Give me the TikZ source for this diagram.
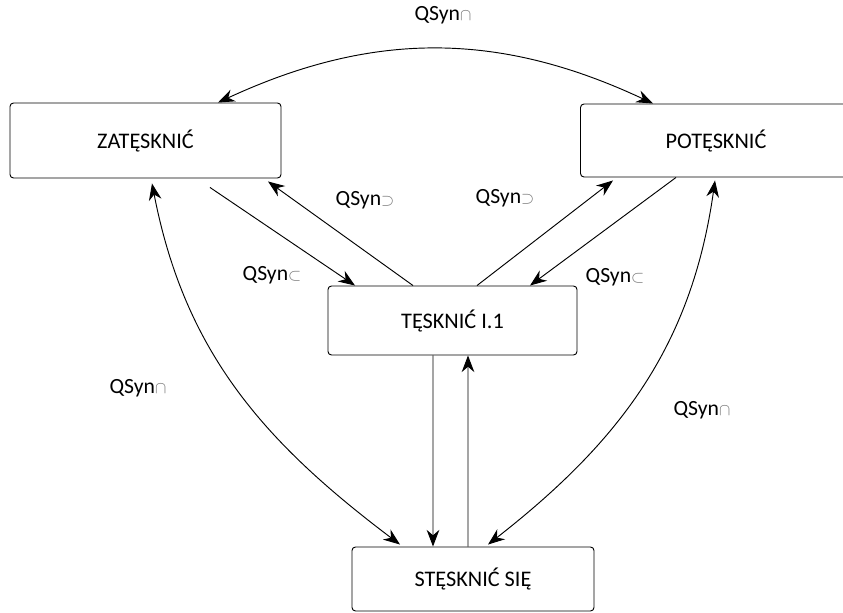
\documentclass[tikz,border=0pt]{standalone}
\usepackage{xcolor}
\usepackage{fontspec}
\setmainfont{Carlito}
\usepackage{tikz}
\usetikzlibrary{arrows.meta}
\usetikzlibrary{shapes}
\tikzset{%
  word box/.style={
    draw,
    rectangle,
    rounded corners=3pt,
    line width=0.8pt,
    font=\fontsize{19}{22}\selectfont
  },
  qsyn label/.style={
    font=\fontsize{18.5}{22}\selectfont
  },
  link/.style={
    line width=0.8pt
  },
}
\newcommand{\relsym}[1]{{\color{black!55}\fontsize{14}{14}\selectfont$#1$}}

\begin{document}
\begin{tikzpicture}
  \clip (0,0) rectangle (25.29,-18.36);

  \node (z) [xshift=4.365cm,yshift=-4.215cm,word box,minimum width=8.13cm,minimum height=2.25cm]
  {ZATĘSKNIĆ};
  \node (p) [xshift=21.48cm,yshift=-4.215cm,word box,minimum width=8.13cm,minimum height=2.19cm]
  {POTĘSKNIĆ};
  \node (t) [xshift=13.575cm,yshift=-9.615cm,word box,minimum width=7.47cm,minimum height=2.07cm]
  {TĘSKNIĆ I.1};
  \node (s) [xshift=14.19cm,yshift=-17.37cm,word box,minimum width=7.26cm,minimum height=1.92cm]
  {STĘSKNIĆ SIĘ};

  \node (qtop) [xshift=13.29cm,yshift=-0.45cm,qsyn label] {QSyn\relsym{\cap}};
  \node (qsupl) [xshift=10.95cm,yshift=-6.0cm,qsyn label] {QSyn\relsym{\supset}};
  \node (qsupr) [xshift=15.15cm,yshift=-5.94cm,qsyn label] {QSyn\relsym{\supset}};
  \node (qsubl) [xshift=8.16cm,yshift=-8.25cm,qsyn label] {QSyn\relsym{\subset}};
  \node (qsubr) [xshift=18.45cm,yshift=-8.31cm,qsyn label] {QSyn\relsym{\subset}};
  \node (qcapl) [xshift=4.14cm,yshift=-11.64cm,qsyn label] {QSyn\relsym{\cap}};
  \node (qcapr) [xshift=21.06cm,yshift=-12.3cm,qsyn label] {QSyn\relsym{\cap}};

  \draw   [link,-{Stealth[length=5mm,width=3.8mm]}]
  ([xshift=1.935cm,yshift=-0.27cm]z.south)--([xshift=-2.925cm]t.north);
  \draw   [link,-{Stealth[length=5mm,width=3.8mm]}]
  ([xshift=-1.185cm]t.north)--([xshift=3.675cm,yshift=-0.09cm]z.south);
  \draw   [link,-{Stealth[length=5mm,width=3.8mm]}]
  ([xshift=0.735cm]t.north)--([xshift=-3.09cm,yshift=-0.09cm]p.south);
  \draw   [link,-{Stealth[length=5mm,width=3.8mm]}]
  ([xshift=-1.2cm]p.south)--([xshift=2.325cm]t.north);
  \draw   [link,-{Stealth[length=5mm,width=3.8mm]}]
  ([xshift=-0.585cm]t.south)--([xshift=-1.2cm]s.north);
  \draw   [link,-{Stealth[length=5mm,width=3.8mm]}]
  ([xshift=-0.15cm]s.north)--([xshift=0.465cm]t.south);

  \draw   [link,{Stealth[length=5mm,width=3.8mm]}-{Stealth[length=5mm,width=3.8mm]}]
  ([xshift=2.175cm]z.north) to[bend left=25] ([xshift=-1.89cm]p.north);
  \draw   [link,{Stealth[length=5mm,width=3.8mm]}-{Stealth[length=5mm,width=3.8mm]}]
  ([xshift=0.195cm,yshift=-0.15cm]z.south) to[out=-79,in=143] ([xshift=-2.19cm,yshift=0.06cm]s.north);
  \draw   [link,{Stealth[length=5mm,width=3.8mm]}-{Stealth[length=5mm,width=3.8mm]}]
  ([xshift=-0.03cm,yshift=-0.09cm]p.south) to[out=-98,in=38] ([xshift=0.45cm,yshift=0.06cm]s.north);
\end{tikzpicture}
\end{document}
